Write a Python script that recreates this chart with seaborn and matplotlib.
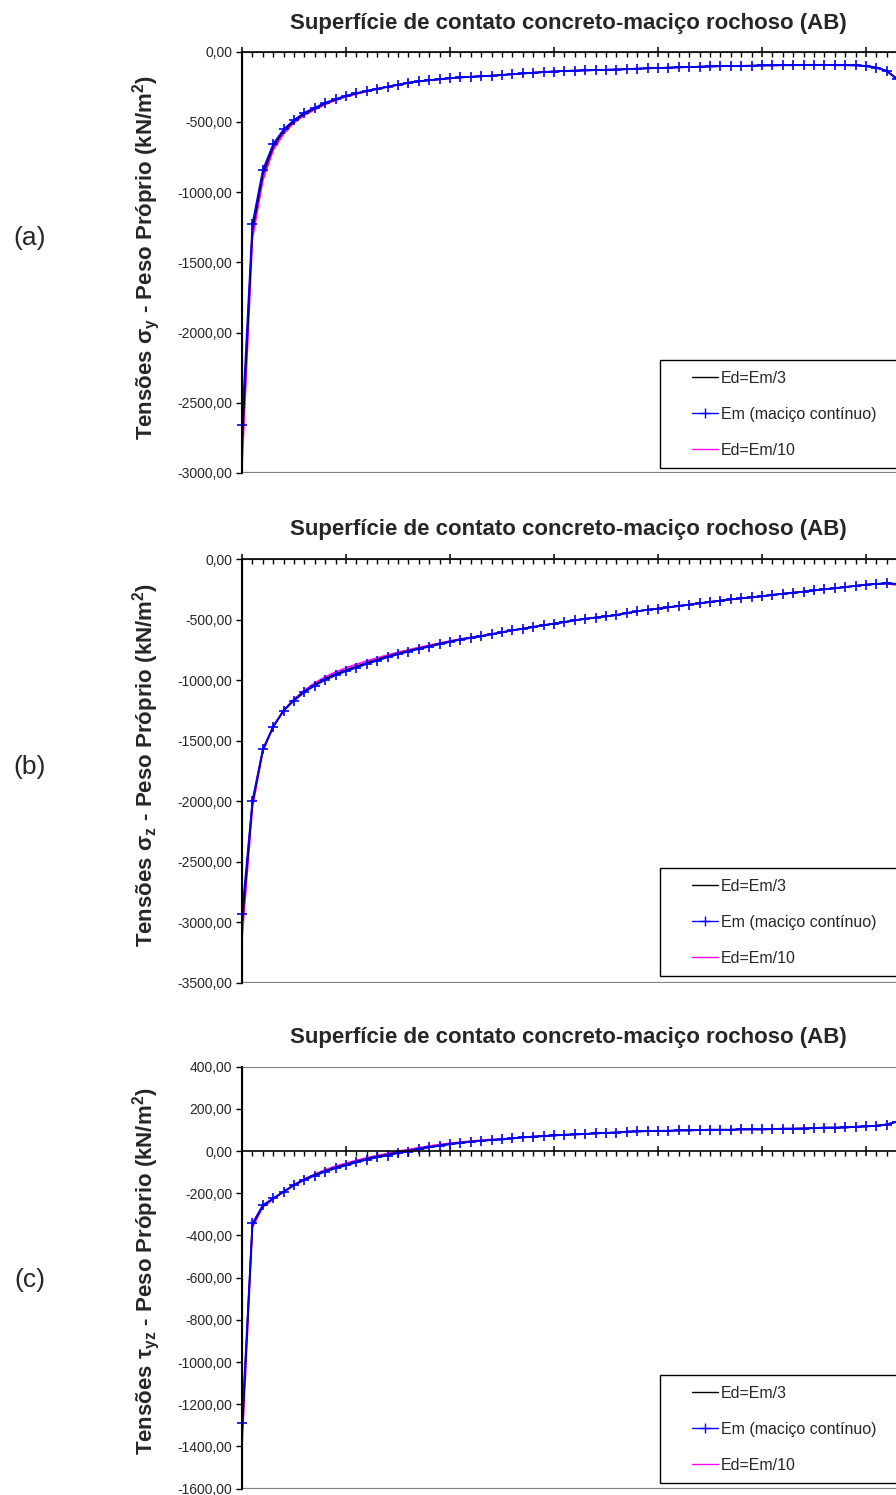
import pandas as pd
import seaborn as sns
import matplotlib.pyplot as plt
from matplotlib.lines import Line2D
from matplotlib.patches import Rectangle
from matplotlib.ticker import MultipleLocator, FuncFormatter

# --- data (one value per node along AB) ---
sy_em = [-2660, -1225, -843, -657, -553, -486, -434, -399, -363, -337,
         -313, -296, -278, -264, -249, -235, -221, -211, -203, -196,
         -189, -183, -179, -175, -171, -166, -160, -155, -150, -145,
         -141, -137, -135, -133, -131, -129, -127, -124, -121, -118,
         -116, -114, -111, -109, -107, -105, -103, -102, -101, -100,
         -98, -97, -96, -96, -95, -95, -95, -96, -96, -97,
         -102, -114, -137, -195, -290]
sy_ed3 = [-2800, -1270, -875, -675, -565, -494, -441, -404, -367, -340,
          -315, -297, -279, -265, -249, -235, -221, -211, -203, -196,
          -189, -183, -179, -175, -171, -166, -160, -155, -150, -145,
          -141, -137, -135, -133, -131, -129, -127, -124, -121, -118,
          -116, -114, -111, -109, -107, -105, -103, -102, -101, -100,
          -98, -97, -96, -96, -95, -95, -95, -96, -96, -97,
          -102, -114, -137, -195, -290]
sy_ed10 = [-2950, -1330, -915, -700, -585, -505, -452, -412, -375, -346,
           -320, -301, -282, -267, -251, -237, -223, -212, -203, -196,
           -189, -183, -179, -175, -171, -166, -160, -155, -150, -145,
           -141, -137, -135, -133, -131, -129, -127, -124, -121, -118,
           -116, -114, -111, -109, -107, -105, -103, -102, -101, -100,
           -98, -97, -96, -96, -95, -95, -95, -96, -96, -97,
           -102, -114, -138, -198, -295]

sz_em = [-2930, -1997, -1573, -1386, -1254, -1171, -1102, -1047, -1000, -961,
         -928, -898, -868, -840, -813, -788, -766, -744, -725, -705,
         -686, -666, -653, -639, -623, -606, -590, -576, -562, -548,
         -534, -521, -507, -494, -484, -474, -463, -447, -433, -419,
         -410, -399, -388, -377, -366, -355, -344, -334, -325, -317,
         -308, -297, -287, -278, -270, -260, -250, -242, -232, -222,
         -212, -206, -201, -205, -235]
sz_ed3 = [-3020, -2020, -1580, -1386, -1252, -1165, -1095, -1039, -991, -952,
          -918, -889, -859, -832, -806, -781, -760, -739, -720, -701,
          -683, -664, -651, -638, -622, -606, -590, -576, -562, -548,
          -534, -521, -507, -494, -484, -474, -463, -447, -433, -419,
          -410, -399, -388, -377, -366, -355, -344, -334, -325, -317,
          -308, -297, -287, -278, -270, -260, -250, -242, -232, -222,
          -212, -206, -201, -208, -240]
sz_ed10 = [-3130, -2050, -1590, -1385, -1250, -1160, -1085, -1025, -975, -935,
           -900, -871, -843, -818, -794, -771, -751, -731, -713, -695,
           -678, -661, -648, -635, -620, -604, -589, -575, -561, -547,
           -534, -521, -507, -494, -484, -474, -463, -447, -433, -419,
           -410, -399, -388, -377, -366, -355, -344, -334, -325, -317,
           -308, -297, -287, -278, -270, -260, -250, -242, -232, -222,
           -212, -207, -204, -215, -250]

tyz_em = [-1290, -343, -256, -224, -193, -163, -137, -117, -98, -82,
          -68, -54, -41, -30, -21, -10, -2, 8, 17, 25,
          32, 38, 44, 48, 52, 55, 60, 65, 68, 71,
          74, 77, 79, 81, 84, 86, 88, 92, 93, 95,
          96, 96, 98, 98, 100, 101, 101, 101, 103, 103,
          103, 104, 106, 106, 107, 109, 111, 111, 112, 115,
          117, 120, 126, 140, 165]
tyz_ed3 = [-1340, -350, -260, -225, -192, -161, -134, -113, -94, -78,
           -64, -50, -37, -26, -17, -6, 1, 11, 19, 27,
           34, 40, 45, 49, 53, 55, 60, 65, 68, 71,
           74, 77, 79, 81, 84, 86, 88, 92, 93, 95,
           96, 96, 98, 98, 100, 101, 101, 101, 103, 103,
           103, 104, 106, 106, 107, 109, 111, 111, 112, 115,
           117, 120, 126, 140, 165]
tyz_ed10 = [-1400, -360, -265, -228, -192, -160, -132, -110, -89, -72,
            -58, -44, -32, -21, -12, -1, 7, 16, 24, 31,
            37, 42, 47, 51, 55, 57, 61, 66, 69, 72,
            75, 77, 79, 81, 84, 86, 88, 92, 93, 95,
            96, 96, 98, 98, 100, 101, 101, 101, 103, 103,
            103, 104, 106, 106, 107, 109, 111, 111, 112, 115,
            117, 120, 126, 141, 167]

nodes = list(range(len(sy_em)))

title = "Superfície de contato concreto-maciço rochoso (AB)"
labels = ["Ed=Em/3", "Em (maciço contínuo)", "Ed=Em/10"]

sns.set_style("white")
plt.rcParams["font.family"] = ["Liberation Sans", "DejaVu Sans"]
plt.rcParams["mathtext.fontset"] = "custom"
plt.rcParams["mathtext.rm"] = "Liberation Sans"
plt.rcParams["mathtext.bf"] = "Liberation Sans:bold"
plt.rcParams["mathtext.it"] = "Liberation Sans:italic"
plt.rcParams["axes.unicode_minus"] = False

W, H = 896, 1495
fig = plt.figure(figsize=(W / 100, H / 100), dpi=100)

STEP = 10.4  # px between nodes
X_MAX = 64.5

panels = [
    dict(top=51.7, bottom=473, ylim=(-3000, 0), major=500,
         series=(sy_ed3, sy_em, sy_ed10), title_y=24, ylab_y=257,
         ylabel=r"Tensões σ$_\mathbf{y}$ - Peso Próprio (kN/m$^\mathbf{2}$)",
         tag="(a)", tag_y=238, leg_top=360, leg_bot=468),
    dict(top=559, bottom=982.5, ylim=(-3500, 0), major=500,
         series=(sz_ed3, sz_em, sz_ed10), title_y=529, ylab_y=765,
         ylabel=r"Tensões σ$_\mathbf{z}$ - Peso Próprio (kN/m$^\mathbf{2}$)",
         tag="(b)", tag_y=767, leg_top=868, leg_bot=976),
    dict(top=1066.7, bottom=1488.6, ylim=(-1600, 400), major=200,
         series=(tyz_ed3, tyz_em, tyz_ed10), title_y=1037, ylab_y=1271,
         ylabel=r"Tensões τ$_\mathbf{yz}$ - Peso Próprio (kN/m$^\mathbf{2}$)",
         tag="(c)", tag_y=1280, leg_top=1375, leg_bot=1483),
]

fmt = FuncFormatter(lambda v, p: f"{v:.2f}".replace(".", ","))
left = 242

for p in panels:
    ax = fig.add_axes([left / W, 1 - p["bottom"] / H,
                       X_MAX * STEP / W, (p["bottom"] - p["top"]) / H])
    ed3, em, ed10 = p["series"]
    sns.lineplot(x=nodes, y=ed10, ax=ax, color="#FF00FF", lw=1.3,
                 clip_on=False, zorder=3)
    sns.lineplot(x=nodes, y=ed3, ax=ax, color="black", lw=1.3,
                 clip_on=False, zorder=4)
    sns.lineplot(x=nodes, y=em, ax=ax, color="#0000FF", lw=1.2,
                 marker="+", ms=6.5, mew=1.2, mec="#0000FF",
                 clip_on=False, zorder=5)

    ax.set_xlim(0, X_MAX)
    ax.set_ylim(*p["ylim"])
    ax.yaxis.set_major_locator(MultipleLocator(p["major"]))
    ax.yaxis.set_major_formatter(fmt)
    ax.xaxis.set_major_locator(MultipleLocator(10))
    ax.xaxis.set_minor_locator(MultipleLocator(1))
    ax.xaxis.set_major_formatter(FuncFormatter(lambda v, p: ""))
    ax.set_xlabel("")
    ax.set_ylabel("")

    ax.spines["bottom"].set_position(("data", 0))
    ax.spines["bottom"].set_color("black")
    ax.spines["bottom"].set_linewidth(1.2)
    ax.spines["bottom"].set_zorder(6)
    ax.spines["left"].set_color("black")
    ax.spines["left"].set_linewidth(1.5)
    ax.spines["left"].set_zorder(6)
    ax.spines["top"].set_visible(False)
    ax.spines["right"].set_visible(False)
    ax.add_patch(Rectangle((0, 0), 1, 1, transform=ax.transAxes, fill=False,
                           edgecolor="#808080", lw=1.6, zorder=1))

    ax.tick_params(axis="x", which="major", direction="inout", length=7,
                   width=1.1, color="black", bottom=True)
    ax.tick_params(axis="x", which="minor", direction="out", length=3.5,
                   width=1.0, color="black", bottom=True)
    ax.tick_params(axis="y", which="major", direction="out", length=4,
                   width=1.0, color="black", left=True, labelsize=10, pad=3)

    fig.text(568 / W, 1 - p["title_y"] / H, title, ha="center", va="center",
             fontsize=16, fontweight="bold")
    fig.text(146 / W, 1 - p["ylab_y"] / H, p["ylabel"],
             rotation=90, ha="center", va="center", fontsize=16,
             fontweight="bold")
    fig.text(30 / W, 1 - p["tag_y"] / H, p["tag"], ha="center", va="center",
             fontsize=19)

    # legend box (right part falls outside the picture)
    fig.patches.append(Rectangle((660 / W, 1 - p["leg_bot"] / H),
                                 300 / W, (p["leg_bot"] - p["leg_top"]) / H,
                                 transform=fig.transFigure, fill=False,
                                 edgecolor="black", lw=1.0, zorder=10))
    handles = [Line2D([], [], color="black", lw=1.0),
               Line2D([], [], color="#0000FF", lw=1.0, marker="+", ms=7,
                      mew=1.0),
               Line2D([], [], color="#FF00FF", lw=1.0)]
    ax.legend(handles, labels, loc="upper left",
              bbox_to_anchor=(692 / W, 1 - (p["leg_top"] + 11) / H),
              bbox_transform=fig.transFigure, frameon=False, fontsize=11.5,
              borderpad=0, borderaxespad=0, handlelength=1.6,
              handletextpad=0.2, labelspacing=1.3, numpoints=1)

fig.savefig("out.png", dpi=100)
